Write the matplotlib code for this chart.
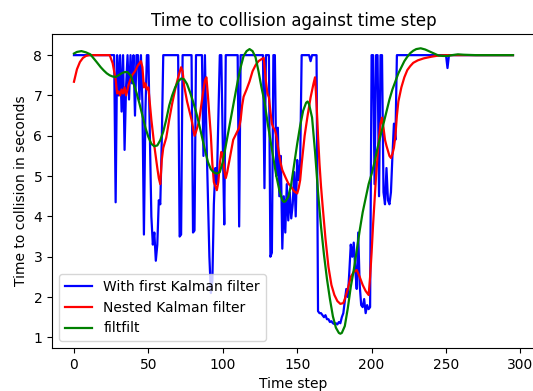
import numpy as np
import matplotlib
matplotlib.use('Agg')
import matplotlib.pyplot as plt

# ---------------- Daten ----------------
# erster Kalman-Filter (blau)
blue_t = [0, 27, 28, 29, 30, 31, 32, 33, 34, 35, 36, 37, 38, 39, 40, 41, 42, 43, 44, 45,
          46, 47, 48, 49, 50, 51, 52, 53, 54, 55, 56, 57, 58, 59, 60, 70, 71, 72, 73, 79,
          80, 81, 82, 86, 87, 88, 89, 90, 91, 92, 93, 94, 95, 96, 97, 98, 99, 100, 101, 102,
          110, 111, 112, 127, 128, 129, 131, 132, 133, 134, 135, 136, 137, 138, 139, 140,
          141, 142, 143, 144, 145, 146, 147, 148, 149, 150, 151, 152, 153, 158, 159, 160,
          163, 164, 165, 166, 167, 168, 169, 170, 171, 172, 173, 174, 175, 176, 177, 178,
          179, 180, 181, 182, 183, 184, 185, 186, 187, 188, 189, 190, 191, 192, 193, 194,
          195, 196, 197, 198, 199, 200, 201, 202, 203, 204, 205, 206, 207, 208, 209, 210,
          211, 212, 213, 214, 215, 216, 217, 250, 251, 252, 295]
blue_v = [8, 8, 4.35, 8, 7.0, 8, 6.6, 8, 5.65, 7.2, 8, 6.9, 8, 7.3, 8, 6.5, 8, 8, 6.9, 8,
          6.8, 3.55, 6.6, 8, 8, 6.0, 4.0, 3.3, 3.6, 2.9, 3.3, 4.4, 4.3, 5.9, 8, 8, 3.5, 3.55, 8, 8,
          3.6, 3.65, 8, 8, 5.5, 8, 6.0, 4.5, 3.0, 2.1, 2.4, 4.3, 5.2, 4.8, 6.4, 8, 8, 5.8, 3.8, 8,
          8, 3.75, 8, 8, 4.7, 8, 8, 3.0, 3.1, 8, 8, 5.0, 6.2, 4.5, 5.5, 3.2,
          4.5, 3.6, 4.8, 3.9, 4.6, 3.95, 4.3, 5.1, 4.0, 5.4, 4.9, 5.3, 8, 8, 7.85, 8,
          8, 1.65, 1.6, 1.6, 1.55, 1.5, 1.55, 1.45, 1.45, 1.38, 1.4, 1.35, 1.33, 1.35, 1.32, 1.38,
          1.35, 1.5, 1.6, 1.9, 2.2, 2.0, 2.6, 3.3, 3.0, 3.35, 2.7, 2.2, 3.6, 2.3, 1.8, 1.75,
          1.95, 1.6, 1.8, 1.7, 1.75, 8, 8, 4.8, 8, 8, 4.5, 8, 8, 4.6, 4.3, 5.2,
          4.4, 4.3, 4.6, 5.5, 6.3, 5.9, 8, 8, 7.68, 8, 8]

# verschachtelter Kalman-Filter (rot)
red_t = [0, 2, 4, 6, 8, 10, 24, 26, 28, 29, 30, 31, 32, 33, 34, 35, 36, 37, 38, 39,
         41, 43, 45, 46, 47, 48, 49, 50, 51, 52, 54, 56, 57, 58, 59, 60, 62, 64, 66, 68,
         70, 72, 73, 74, 76, 78, 79, 80, 81, 82, 84, 86, 88, 89, 90, 92, 93, 94, 95, 96,
         97, 98, 99, 100, 101, 102, 103, 105, 107, 109, 111, 112, 113, 114, 116, 118, 120,
         122, 124, 126, 127.5, 129, 130, 131, 132, 133, 134, 135, 136, 137, 138, 139, 140,
         142, 144, 146, 148, 150, 151, 152, 153, 155, 157, 159, 161, 162, 163, 164, 165,
         166, 167, 169, 171, 173, 175, 177, 179, 181, 182, 184, 186, 188, 190, 192, 194,
         196, 198, 199, 200, 201, 202, 203, 204, 205, 206, 207, 208, 209, 210, 212, 213,
         214, 215, 216, 217, 218, 220, 222, 224, 226, 228, 231, 235, 240, 245, 250, 295]
red_v = [7.34, 7.65, 7.83, 7.93, 7.98, 8.0, 8.0, 7.8, 7.4, 7.05, 7.1, 7.0, 7.15, 7.05, 7.2, 7.0, 7.15, 7.3, 7.4, 7.5,
         7.6, 7.75, 7.85, 7.7, 7.2, 7.3, 7.15, 7.2, 6.8, 6.4, 5.75, 5.2, 4.95, 4.8, 5.4, 5.7, 5.95, 6.4, 6.8, 7.15,
         7.45, 7.7, 7.6, 7.25, 6.85, 6.55, 6.4, 6.2, 6.0, 6.1, 6.35, 6.88, 7.38, 7.45, 7.0, 6.0, 5.3, 4.85, 4.75, 4.65,
         4.85, 5.3, 5.6, 5.5, 5.15, 4.95, 5.1, 5.5, 5.9, 6.05, 6.2, 6.4, 6.75, 6.97, 7.15, 7.35, 7.6,
         7.75, 7.85, 7.9, 7.93, 7.35, 7.05, 6.95, 6.6, 6.3, 6.2, 6.15, 6.0, 5.75, 5.5, 5.3, 5.15,
         4.98, 4.82, 4.73, 4.62, 4.57, 4.7, 4.9, 5.3, 6.0, 6.5, 6.95, 7.3, 7.45, 6.8, 6.0, 5.3,
         4.75, 4.3, 3.45, 2.75, 2.3, 2.05, 1.9, 1.83, 1.85, 1.95, 2.2, 2.5, 2.62, 2.67, 2.5, 2.3,
         2.15, 2.05, 2.5, 3.1, 3.8, 4.4, 5.0, 5.5, 5.95, 6.3, 6.45, 6.2, 5.9, 5.75, 5.5, 5.45,
         5.55, 5.7, 6.0, 6.5, 6.85, 7.2, 7.45, 7.63, 7.73, 7.81, 7.87, 7.92, 7.96, 7.99, 8.0, 8.0]

# filtfilt (gruen)
green_t = [0, 2, 5, 8, 11, 13, 15, 18, 20, 22, 24, 26, 28, 30, 32, 34, 36, 38, 40, 42,
           44, 46, 48, 50, 52, 54, 56, 58, 60, 62, 64, 66, 68, 70, 72, 74, 76, 78, 80, 82,
           84, 86, 88, 90, 92, 94, 96, 98, 100, 102, 104, 106, 108, 110, 112, 114, 116, 118,
           120, 122, 124, 126, 128, 130, 132, 134, 136, 138, 140, 141, 142, 144, 146, 148,
           150, 152, 154, 156, 157, 158, 160, 162, 164, 166, 168, 170, 172, 174, 176, 178,
           179, 180, 182, 184, 186, 188, 190, 192, 194, 196, 198, 200, 202, 204, 206, 208,
           210, 212, 214, 216, 218, 220, 222, 224, 226, 228, 230, 233, 236, 239, 242, 245,
           248, 251, 254, 258, 262, 270, 295]
green_v = [8.04, 8.08, 8.1, 8.07, 8.02, 7.93, 7.84, 7.7, 7.62, 7.55, 7.5, 7.47, 7.46, 7.5, 7.55, 7.58, 7.58, 7.5, 7.3, 7.07,
           6.8, 6.5, 6.2, 5.97, 5.8, 5.74, 5.76, 5.89, 6.1, 6.4, 6.75, 7.0, 7.2, 7.35, 7.42, 7.4, 7.28, 7.08, 6.85, 6.6,
           6.3, 5.97, 5.65, 5.35, 5.17, 5.09, 5.06, 5.1, 5.35, 5.75, 6.15, 6.55, 6.95, 7.35, 7.7, 7.98, 8.1, 8.15,
           8.1, 7.95, 7.6, 7.2, 6.85, 6.35, 5.89, 5.45, 5.0, 4.65, 4.4, 4.36, 4.37, 4.48, 4.8, 5.3,
           5.8, 6.25, 6.62, 6.82, 6.85, 6.78, 6.45, 5.6, 4.6, 3.75, 3.05, 2.45, 1.95, 1.52, 1.24, 1.11,
           1.09, 1.11, 1.28, 1.72, 2.25, 2.67, 3.15, 3.65, 4.1, 4.45, 4.8, 5.05, 5.35, 5.7, 6.0, 6.3,
           6.6, 6.9, 7.15, 7.35, 7.55, 7.7, 7.85, 7.96, 8.05, 8.11, 8.15, 8.17, 8.14, 8.09, 8.04, 7.99,
           7.98, 7.98, 8.0, 8.02, 8.01, 8.0, 8.0]

# ---------------- Plot ----------------
fig = plt.figure(figsize=(5.33, 3.91), dpi=100)
ax = fig.add_axes([0.0976, 0.110, 0.906, 0.803])

ax.plot(blue_t, blue_v, color='blue', lw=1.6, label='With first Kalman filter')
ax.plot(red_t, red_v, color='red', lw=1.6, label='Nested Kalman filter')
ax.plot(green_t, green_v, color='green', lw=1.6, label='filtfilt')

ax.set_title('Time to collision against time step')
ax.set_xlabel('Time step')
ax.set_ylabel('Time to collision in seconds')
ax.legend(loc='lower left')
# rechter Rand liegt im Original ausserhalb des Bildes
ax.spines['right'].set_visible(False)

fig.savefig('out.png', dpi=100)
